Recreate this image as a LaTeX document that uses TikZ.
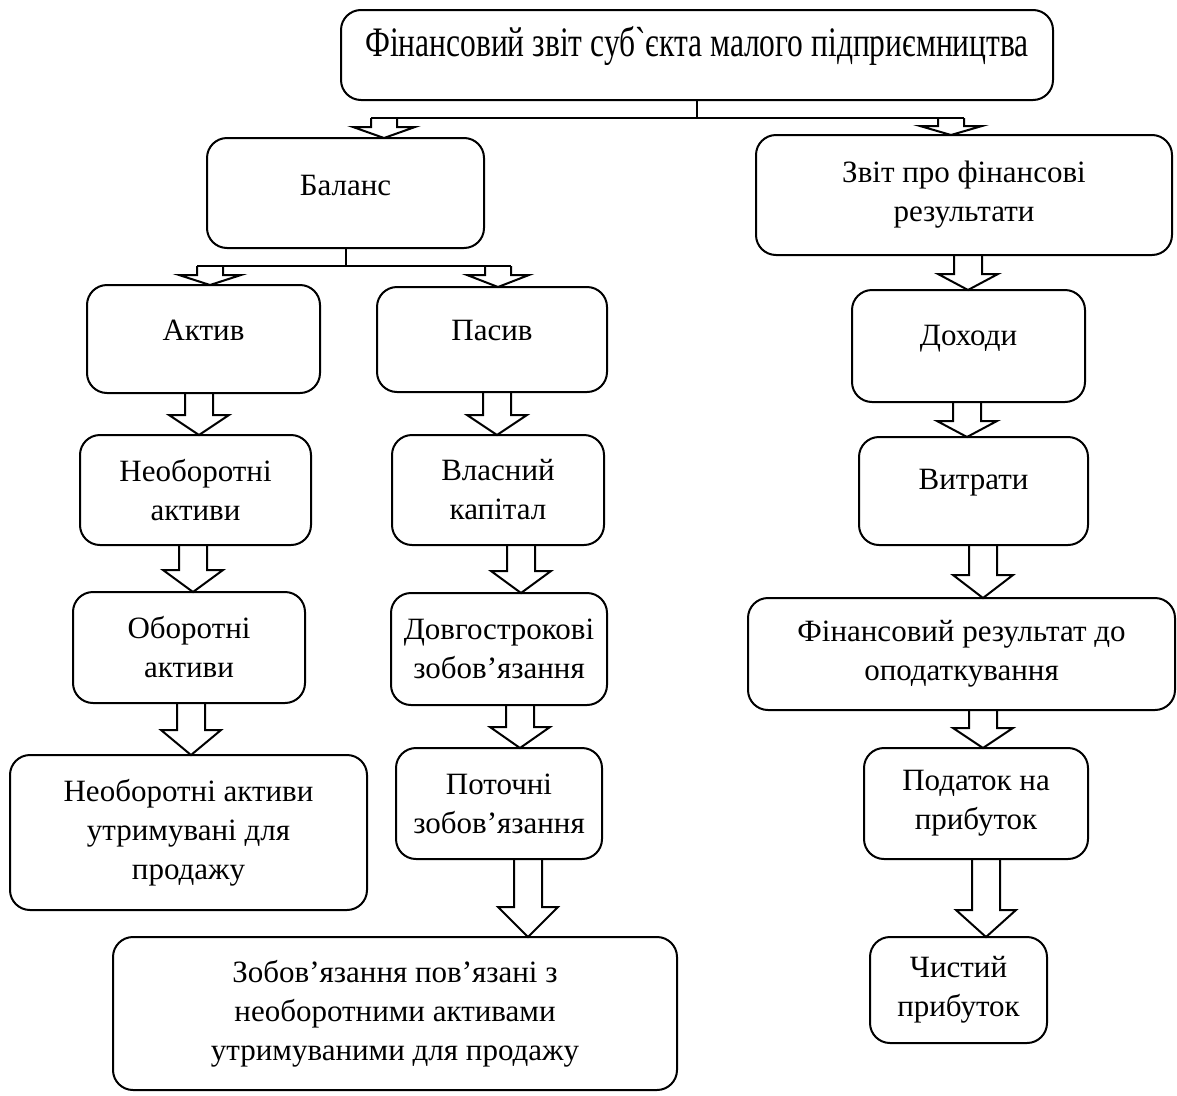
\documentclass[tikz,border=0pt]{standalone}
\usepackage{fontspec}
\setmainfont{Liberation Serif}
\newfontfamily\titlefont[FakeStretch=0.75,Ligatures=TeXOff]{Liberation Serif}
\usetikzlibrary{calc}

% hollow block arrow: axis x, start point, end point, head length, shaft half-width, head half-width
\newcommand\hollowarrow[6]{%
  \draw[hollow] let \p1=(#2), \p2=(#3) in
    ({#1pt-#5pt},\y1) -- ({#1pt-#5pt},{\y2+#4pt}) -- ({#1pt-#6pt},{\y2+#4pt})
    -- (#1pt,\y2) -- ({#1pt+#6pt},{\y2+#4pt}) -- ({#1pt+#5pt},{\y2+#4pt})
    -- ({#1pt+#5pt},\y1);}
\newcommand\bigarrow[4]{\hollowarrow{#1}{#2.south}{#3.north}{#4}{14}{30}}
\newcommand\smallarrow[4]{\hollowarrow{#1}{#2}{#3.north}{#4}{13}{31}}

\begin{document}
\begin{tikzpicture}[x=1pt,y=-1pt,
  box/.style={draw, line width=2pt, rounded corners=20pt, outer sep=0pt,
    inner sep=0pt, align=center, font=\fontsize{31}{39}\selectfont},
  hollow/.style={draw, line width=2pt, line join=miter},
  link/.style={draw, line width=2pt}]
\useasboundingbox (0,0) rectangle (1177,1095);

% report header
\node[box, minimum width=712, minimum height=90, text depth=28pt,
  font=\fontsize{42}{48}\titlefont] (top) at (697,55)
  {Фінансовий звіт суб`єкта малого підприємництва};

% first level
\node[box, minimum width=277, minimum height=110, text depth=16pt] (bal) at (345.5,193) {Баланс};
\node[box, minimum width=416, minimum height=120] (zvit) at (964,195) {Звіт про фінансові\\результати};

% balance sheet branch
\node[box, minimum width=233, minimum height=108, text depth=18pt] (akt) at (203.5,339) {Актив};
\node[box, minimum width=230, minimum height=105, text depth=19pt] (pas) at (492,339.5) {Пасив};

\node[box, minimum width=231, minimum height=110] (neob) at (195.5,490) {Необоротні\\активи};
\node[box, minimum width=232, minimum height=111] (obor) at (189,647.5) {Оборотні\\активи};
\node[box, minimum width=357, minimum height=155] (neobutr) at (188.5,832.5) {Необоротні активи\\утримувані для\\продажу};

\node[box, minimum width=212, minimum height=110] (vlas) at (498,490) {Власний\\капітал};
\node[box, minimum width=216, minimum height=112] (dovg) at (499,649) {Довгострокові\\зобов’язання};
\node[box, minimum width=206, minimum height=111] (poto) at (499,803.5) {Поточні\\зобов’язання};
\node[box, minimum width=564, minimum height=153] (zobov) at (395,1013.5) {Зобов’язання пов’язані з\\необоротними активами\\утримуваними для продажу};

% income statement branch
\node[box, minimum width=233, minimum height=112, text depth=22pt] (dokh) at (968.5,346) {Доходи};
\node[box, minimum width=229, minimum height=108, text depth=23pt] (vytr) at (973.5,491) {Витрати};
\node[box, minimum width=427, minimum height=112] (finrez) at (961.5,654) {Фінансовий результат до\\оподаткування};
\node[box, minimum width=224, minimum height=111] (podat) at (976,803.5) {Податок на\\прибуток};
\node[box, minimum width=177, minimum height=106] (chyst) at (958.5,990) {Чистий\\прибуток};

% split under the header
\coordinate (hl) at (371,118);
\coordinate (hr) at (964,118);
\draw[link] (top.south) -- (top.south |- hl);
\draw[link] (hl) -- (hr);
\smallarrow{384}{hl}{bal}{11}
\smallarrow{951}{hr}{zvit}{9}

% split under the balance sheet
\coordinate (bl) at (197,266);
\coordinate (br) at (511,266);
\draw[link] (bal.south) -- (bal.south |- bl);
\draw[link] (bl) -- (br);
\smallarrow{210}{bl}{akt}{10}
\smallarrow{498}{br}{pas}{12}

% chains of block arrows
\bigarrow{199}{akt}{neob}{20}
\bigarrow{193}{neob}{obor}{22}
\bigarrow{191}{obor}{neobutr}{25}

\bigarrow{497}{pas}{vlas}{20}
\bigarrow{521}{vlas}{dovg}{22}
\bigarrow{520}{dovg}{poto}{21}
\bigarrow{528}{poto}{zobov}{30}

\bigarrow{968}{zvit}{dokh}{16}
\bigarrow{967}{dokh}{vytr}{16}
\bigarrow{983}{vytr}{finrez}{23}
\bigarrow{983}{finrez}{podat}{20}
\bigarrow{986}{podat}{chyst}{27}
\end{tikzpicture}
\end{document}
